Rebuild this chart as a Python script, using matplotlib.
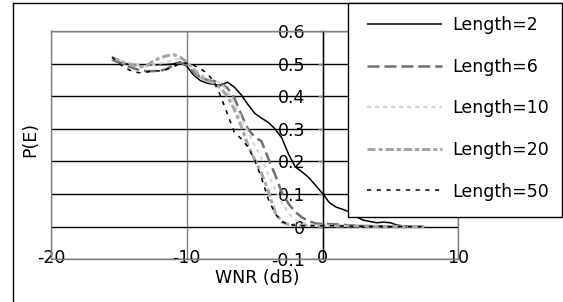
import matplotlib
matplotlib.use('Agg')
import matplotlib.pyplot as plt
from matplotlib.patches import Rectangle
from matplotlib.lines import Line2D

# ---------------- data ----------------
wnr = [-15.5, -15, -14.5, -14, -13.5, -13, -12.5, -12, -11.5, -11, -10.5, -10,
       -9.5, -9, -8.5, -8, -7.5, -7, -6.5, -6, -5.5, -5, -4.5, -4, -3.5, -3,
       -2.5, -2, -1.5, -1, -0.5, 0, 0.5, 1, 1.5, 2, 2.5, 3, 3.5, 4, 4.5, 5,
       5.5, 6, 6.5, 7, 7.5]

pe_len2 = [0.515, 0.505, 0.500, 0.497, 0.496, 0.496, 0.496, 0.497, 0.497, 0.499,
           0.505, 0.492, 0.465, 0.448, 0.440, 0.436, 0.434, 0.443, 0.428, 0.405,
           0.375, 0.348, 0.333, 0.320, 0.300, 0.272, 0.222, 0.183, 0.168, 0.150,
           0.126, 0.102, 0.074, 0.060, 0.053, 0.045, 0.030, 0.020, 0.016, 0.012,
           0.014, 0.012, 0.005, 0.002, 0.001, 0.000, 0.000]

pe_len6 = [0.512, 0.503, 0.494, 0.487, 0.480, 0.477, 0.477, 0.478, 0.483, 0.495,
           0.503, 0.495, 0.475, 0.458, 0.450, 0.447, 0.440, 0.425, 0.395, 0.345,
           0.300, 0.275, 0.262, 0.210, 0.160, 0.105, 0.070, 0.045, 0.028, 0.017,
           0.010, 0.008, 0.008, 0.007, 0.006, 0.004, 0.003, 0.002, 0.002, 0.001,
           0.001, 0.001, 0.000, 0.000, 0.000, 0.000, 0.000]

pe_len10 = [0.515, 0.510, 0.505, 0.500, 0.495, 0.492, 0.495, 0.500, 0.505, 0.510,
            0.515, 0.505, 0.485, 0.468, 0.457, 0.450, 0.440, 0.415, 0.380, 0.335,
            0.290, 0.250, 0.210, 0.160, 0.115, 0.075, 0.040, 0.022, 0.013, 0.008,
            0.005, 0.004, 0.003, 0.002, 0.002, 0.002, 0.001, 0.001, 0.001, 0.001,
            0.001, 0.000, 0.000, 0.000, 0.000, 0.000, 0.000]

pe_len20 = [0.520, 0.510, 0.500, 0.495, 0.490, 0.492, 0.507, 0.517, 0.524, 0.528,
            0.520, 0.505, 0.483, 0.460, 0.447, 0.440, 0.425, 0.400, 0.360, 0.310,
            0.250, 0.205, 0.165, 0.110, 0.045, 0.014, 0.007, 0.005, 0.004, 0.003,
            0.003, 0.003, 0.003, 0.002, 0.002, 0.002, 0.002, 0.002, 0.001, 0.001,
            0.001, 0.001, 0.001, 0.000, 0.000, 0.000, 0.000]

pe_len50 = [0.520, 0.500, 0.486, 0.476, 0.472, 0.474, 0.477, 0.478, 0.482, 0.490,
            0.500, 0.502, 0.495, 0.485, 0.470, 0.445, 0.400, 0.345, 0.290, 0.270,
            0.245, 0.205, 0.150, 0.085, 0.040, 0.016, 0.007, 0.004, 0.003, 0.003,
            0.003, 0.003, 0.003, 0.003, 0.002, 0.002, 0.002, 0.001, 0.001, 0.001,
            0.001, 0.000, 0.000, 0.000, 0.000, 0.000, 0.000]

series_labels = ['Length=2', 'Length=6', 'Length=10', 'Length=20', 'Length=50']
series_values = [pe_len2, pe_len6, pe_len10, pe_len20, pe_len50]

x_ticks = [-20, -10, 0, 10]
x_tick_labels = ['-20', '-10', '0', '10']
y_ticks = [-0.1, 0.0, 0.1, 0.2, 0.3, 0.4, 0.5, 0.6]
y_tick_labels = ['-0.1', '0', '0.1', '0.2', '0.3', '0.4', '0.5', '0.6']

# ---------------- styles ----------------
styles = [
    dict(color='black', lw=1.1, dashes=None),
    dict(color='#707070', lw=1.8, dashes=(8.6, 3.6)),
    dict(color='#d4d4d4', lw=1.5, dashes=(2.9, 2.9)),
    dict(color='#a6a6a6', lw=2.2, dashes=(5.8, 2.2, 2.9, 2.2)),
    dict(color='black', lw=1.1, dashes=(3.0, 4.0)),
]

W, H, DPI = 563, 302, 100
plt.rcParams['font.family'] = ['DejaVu Sans']
plt.rcParams['lines.scale_dashes'] = False
FS = 12.5

fig = plt.figure(figsize=(W / DPI, H / DPI), dpi=DPI)


def fx(px):
    return px / W


def fy(py):
    return 1 - py / H


ax_l, ax_r, ax_t, ax_b = 51, 458.3, 31, 259.3
ax = fig.add_axes([fx(ax_l), fy(ax_b), (ax_r - ax_l) / W, (ax_b - ax_t) / H])

lines = []
for vals, lab, st in zip(series_values, series_labels, styles):
    ln, = ax.plot(wnr, vals, color=st['color'], lw=st['lw'], label=lab,
                  solid_capstyle='butt', dash_capstyle='butt')
    if st['dashes'] is not None:
        ln.set_dashes(st['dashes'])
    lines.append(ln)

ax.set_xlim(-20, 10)
ax.set_ylim(-0.1, 0.6)
ax.set_xticks(x_ticks)
ax.set_xticklabels(x_tick_labels)
ax.set_yticks(y_ticks)
ax.set_yticklabels(y_tick_labels)

gray = '#808080'
ax.grid(axis='y', color='black', lw=1)
ax.grid(axis='x', color=gray, lw=1)
for spn in ['top', 'bottom', 'right']:
    ax.spines[spn].set_color(gray)
    ax.spines[spn].set_linewidth(1)
ax.spines['left'].set_position(('data', 0))
ax.spines['left'].set_color('black')
ax.spines['left'].set_linewidth(1)
ax.axvline(-20, color=gray, lw=1, clip_on=False)

ax.tick_params(axis='y', direction='out', length=3.6, width=1, color=gray,
               pad=8.8, labelsize=FS)
ax.tick_params(axis='x', length=0, pad=-7.6, labelsize=FS)

ax.set_xlabel('WNR (dB)', fontsize=FS, va='center', ha='center')
ax.xaxis.set_label_coords((257 - ax_l) / (ax_r - ax_l), (ax_b - 278) / (ax_b - ax_t))
ax.set_ylabel('P(E)', fontsize=FS, va='center', ha='center')
ax.yaxis.set_label_coords((30 - ax_l) / (ax_r - ax_l), (ax_b - 139) / (ax_b - ax_t))

# outer chart frame (left and top edges visible)
fig.add_artist(Line2D([fx(13.3), fx(13.3)], [fy(2.7), 0], transform=fig.transFigure,
                      color='black', lw=1, zorder=3))
fig.add_artist(Line2D([fx(13.3), 1], [fy(2.7), fy(2.7)], transform=fig.transFigure,
                      color='black', lw=1, zorder=3))

# legend box
fig.add_artist(Rectangle((fx(348.3), fy(217.3)), (561.7 - 348.3) / W, (217.3 - 2.7) / H,
                         transform=fig.transFigure, facecolor='white',
                         edgecolor='black', lw=1, zorder=3))
em = FS * DPI / 72
leg = fig.legend(lines, series_labels, loc='upper left',
                 bbox_to_anchor=(fx(367), fy(16)), frameon=False,
                 borderpad=0, borderaxespad=0, fontsize=FS,
                 handlelength=75 / em, handletextpad=10 / em,
                 labelspacing=(41 - em) / em)
leg.set_zorder(6)

fig.savefig('out.png', dpi=DPI)
